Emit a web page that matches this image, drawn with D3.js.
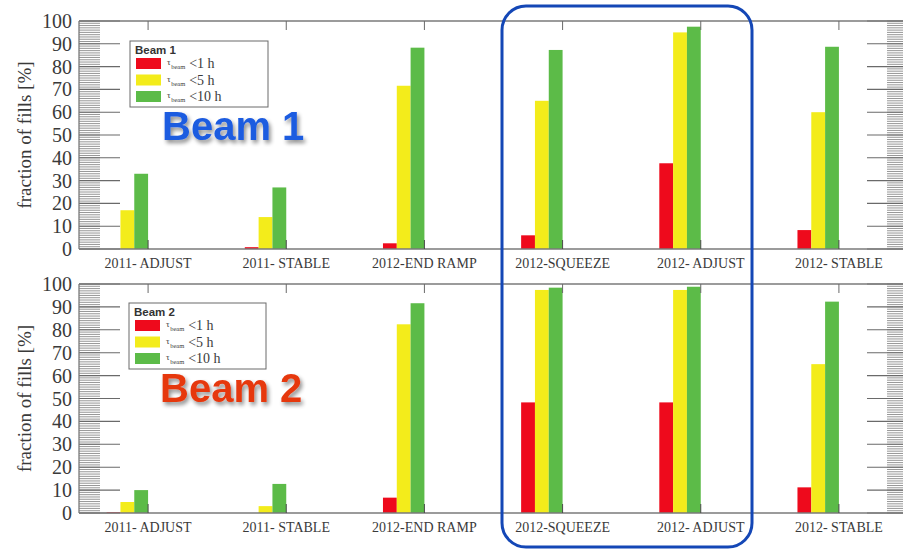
<!DOCTYPE html>
<html>
<head>
<meta charset="utf-8">
<script src="https://cdn.jsdelivr.net/npm/d3@7"></script>
<style>
  html, body { margin: 0; padding: 0; background: #ffffff; }
  svg { display: block; }
  .serif { font-family: "Liberation Serif", "Times New Roman", "DejaVu Serif", serif; }
  .sans { font-family: "Liberation Sans", Arial, "DejaVu Sans", sans-serif; }
</style>
</head>
<body>
<div id="chart"></div>
<script>
// Fill categories along the x axis
const categories = ["2011- ADJUST", "2011- STABLE", "2012-END RAMP", "2012-SQUEEZE", "2012- ADJUST", "2012- STABLE"];

// Beam 1: fraction of fills [%] with tau_beam below 1 h, 5 h, 10 h
const beam1Below1h  = [0, 0.8, 2.5, 6, 37.6, 8.3];
const beam1Below5h  = [17, 14, 71.6, 65, 95, 60];
const beam1Below10h = [33, 27, 88.3, 87.3, 97.5, 88.7];

// Beam 2: fraction of fills [%] with tau_beam below 1 h, 5 h, 10 h
const beam2Below1h  = [0.3, 0, 6.7, 48.3, 48.3, 11.2];
const beam2Below5h  = [4.8, 3, 82.4, 97.4, 97.4, 65];
const beam2Below10h = [10, 12.7, 91.6, 98.4, 98.8, 92.3];

// Legend entries
const seriesThresholds = ["<1 h", "<5 h", "<10 h"];
const seriesColors = ["#ee0a1c", "#f3ec1b", "#5cbb48"];

// Y axis ticks
const yMajorTicks = [0, 10, 20, 30, 40, 50, 60, 70, 80, 90, 100];

const W = 903, H = 550;
const svg = d3.select("#chart").append("svg").attr("width", W).attr("height", H);

const defs = svg.append("defs");
const shadow = defs.append("filter").attr("id", "softShadow")
  .attr("x", "-10%").attr("y", "-20%").attr("width", "130%").attr("height", "160%");
shadow.append("feGaussianBlur").attr("in", "SourceAlpha").attr("stdDeviation", 2.2).attr("result", "b");
shadow.append("feOffset").attr("in", "b").attr("dx", 2).attr("dy", 3).attr("result", "o");
shadow.append("feComponentTransfer").attr("in", "o").attr("result", "s")
  .append("feFuncA").attr("type", "linear").attr("slope", 0.45);
const merge = shadow.append("feMerge");
merge.append("feMergeNode").attr("in", "s");
merge.append("feMergeNode").attr("in", "SourceGraphic");

const axisColor = "#7a7a7a";
const textColor = "#3a3a3a";

// Shared x scale: categories at positions 1..6
const x = d3.scaleLinear().domain([0.5, 6.5]).range([79, 908]);
const barW = 0.1;

const panels = [
  { top: 21, bottom: 249, name: "Beam 1", series: [beam1Below1h, beam1Below5h, beam1Below10h],
    legend: { x: 130, y: 41, w: 138, h: 66 }, title: { x: 162, y: 140, color: "#1e5ce0" } },
  { top: 284, bottom: 513, name: "Beam 2", series: [beam2Below1h, beam2Below5h, beam2Below10h],
    legend: { x: 129, y: 303, w: 137, h: 66 }, title: { x: 160, y: 402, color: "#e6380f" } }
];

panels.forEach(p => {
  const g = svg.append("g");
  const y = d3.scaleLinear().domain([0, 100]).range([p.bottom, p.top]);
  const x0 = x.range()[0], x1 = x.range()[1];

  // minor ticks every 1 %, on left and right frames
  const minor = d3.range(0, 101, 1);
  g.append("g").selectAll("line").data(minor).join("line")
    .attr("x1", x0).attr("x2", x0 + 21)
    .attr("y1", d => y(d)).attr("y2", d => y(d))
    .attr("stroke", "#8a8a8a").attr("stroke-width", 0.9);
  g.append("g").selectAll("line").data(minor).join("line")
    .attr("x1", x1 - 21).attr("x2", x1)
    .attr("y1", d => y(d)).attr("y2", d => y(d))
    .attr("stroke", "#8a8a8a").attr("stroke-width", 0.9);

  // major ticks
  g.append("g").selectAll("line").data(yMajorTicks).join("line")
    .attr("x1", x0).attr("x2", x0 + 41)
    .attr("y1", d => y(d)).attr("y2", d => y(d))
    .attr("stroke", "#6a6a6a").attr("stroke-width", 1.1);
  g.append("g").selectAll("line").data(yMajorTicks).join("line")
    .attr("x1", x1 - 41).attr("x2", x1)
    .attr("y1", d => y(d)).attr("y2", d => y(d))
    .attr("stroke", "#6a6a6a").attr("stroke-width", 1.1);

  // y tick labels
  g.append("g").selectAll("text").data(yMajorTicks).join("text")
    .attr("class", "serif")
    .attr("x", x0 - 7).attr("y", d => y(d))
    .attr("dy", "0.35em").attr("text-anchor", "end")
    .attr("font-size", 20).attr("fill", textColor)
    .text(d => d);

  // bars
  p.series.forEach((vals, si) => {
    g.append("g").selectAll("rect").data(vals).join("rect")
      .attr("x", (d, i) => x(i + 1 - (3 - si) * barW))
      .attr("width", x(barW) - x(0))
      .attr("y", d => y(d))
      .attr("height", d => y(0) - y(d))
      .attr("fill", seriesColors[si]);
  });

  // frame
  g.append("line").attr("x1", x0).attr("x2", x1).attr("y1", p.top).attr("y2", p.top)
    .attr("stroke", axisColor).attr("stroke-width", 1.3);
  g.append("line").attr("x1", x0).attr("x2", x1).attr("y1", p.bottom).attr("y2", p.bottom)
    .attr("stroke", axisColor).attr("stroke-width", 1.3);
  g.append("line").attr("x1", x0).attr("x2", x0).attr("y1", p.top).attr("y2", p.bottom)
    .attr("stroke", axisColor).attr("stroke-width", 1.3);

  // x ticks on top and bottom frames
  const pos = categories.map((c, i) => i + 1);
  g.append("g").selectAll("line").data(pos).join("line")
    .attr("x1", d => x(d)).attr("x2", d => x(d))
    .attr("y1", p.top).attr("y2", p.top + 9)
    .attr("stroke", "#6a6a6a").attr("stroke-width", 1);
  g.append("g").selectAll("line").data(pos).join("line")
    .attr("x1", d => x(d)).attr("x2", d => x(d))
    .attr("y1", p.bottom).attr("y2", p.bottom - 9)
    .attr("stroke", "#4a4a4a").attr("stroke-width", 1);

  // category labels
  g.append("g").selectAll("text").data(categories).join("text")
    .attr("class", "serif")
    .attr("x", (d, i) => x(i + 1)).attr("y", p.bottom + 19)
    .attr("text-anchor", "middle")
    .attr("font-size", 14).attr("fill", textColor)
    .text(d => d);

  // y axis title
  g.append("text")
    .attr("class", "serif")
    .attr("transform", `translate(31,${(p.top + p.bottom) / 2}) rotate(-90)`)
    .attr("text-anchor", "middle")
    .attr("font-size", 19).attr("fill", textColor)
    .text("fraction of fills [%]");

  // legend
  const L = p.legend;
  const lg = g.append("g");
  lg.append("rect").attr("x", L.x).attr("y", L.y).attr("width", L.w).attr("height", L.h)
    .attr("fill", "#fff").attr("stroke", "#6a6a6a").attr("stroke-width", 1);
  lg.append("text").attr("class", "sans").attr("x", L.x + 5).attr("y", L.y + 13)
    .attr("font-weight", "bold").attr("font-size", 11.5).attr("fill", "#333")
    .text(p.name);
  seriesThresholds.forEach((t, i) => {
    const ry = L.y + 17 + i * 16.5;
    lg.append("rect").attr("x", L.x + 6).attr("y", ry).attr("width", 25).attr("height", 11)
      .attr("fill", seriesColors[i]);
    const tx = lg.append("text").attr("class", "serif").attr("x", L.x + 37).attr("y", ry + 7)
      .attr("fill", textColor);
    tx.append("tspan").attr("font-size", 9).text("τ");
    tx.append("tspan").attr("font-size", 6.5).attr("dy", 4).attr("dx", 0.5).text("beam");
    tx.append("tspan").attr("font-size", 14).attr("dy", -1).attr("dx", 4).text(t);
  });

  // big panel title
  g.append("text").attr("class", "sans").attr("x", p.title.x).attr("y", p.title.y)
    .attr("font-weight", "bold").attr("font-size", 40)
    .attr("fill", p.title.color).attr("filter", "url(#softShadow)")
    .text(p.name);
});

// highlight box around the 2012 squeeze / adjust columns
svg.append("rect")
  .attr("x", 502).attr("y", 6).attr("width", 250).attr("height", 541)
  .attr("rx", 24).attr("ry", 24)
  .attr("fill", "none").attr("stroke", "#1447b6").attr("stroke-width", 3);
</script>
</body>
</html>
